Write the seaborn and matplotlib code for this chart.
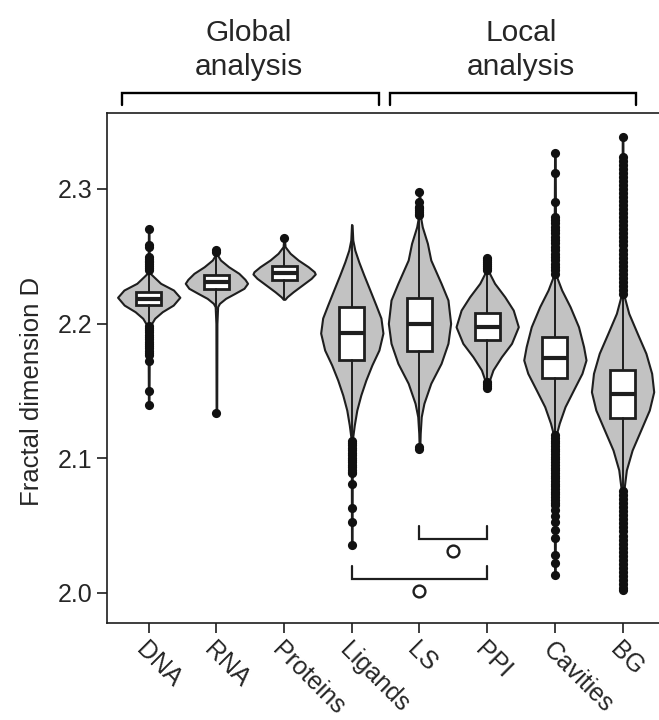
import numpy as np
import pandas as pd
import matplotlib
matplotlib.use("Agg")
import matplotlib.pyplot as plt
import matplotlib.transforms as mtransforms
import seaborn as sns

categories = ["DNA", "RNA", "Proteins", "Ligands", "LS", "PPI", "Cavities", "BG"]

# violin outlines: D values (top -> bottom) and relative density
dna_y = [2.2700, 2.2450, 2.2373, 2.2348, 2.2299, 2.2249, 2.2195, 2.2137, 2.2088, 2.2039, 2.1989, 2.1900, 2.1394]
dna_d = [0.3, 0.5, 1.5, 5, 12, 25, 31.4, 24.7, 13.7, 6, 2, 0.6, 0.3]
rna_y = [2.2539, 2.2509, 2.2472, 2.2422, 2.2373, 2.2328, 2.2299, 2.2262, 2.2224, 2.2187, 2.2150, 2.2125, 2.2000, 2.1333]
rna_d = [0.3, 1, 4, 12, 22, 28, 30.5, 27, 18, 9, 3, 1.2, 0.5, 0.3]
prot_y = [2.2633, 2.2571, 2.2522, 2.2472, 2.2422, 2.2385, 2.2368, 2.2336, 2.2286, 2.2236, 2.2199, 2.2180]
prot_d = [0.3, 1, 6, 14, 24, 30, 31, 27, 18, 9, 3, 0.8]
lig_y = [2.2732, 2.2620, 2.2546, 2.2457, 2.2360, 2.2249, 2.2137, 2.2041, 2.1929, 2.1803, 2.1692,
         2.1580, 2.1469, 2.1357, 2.1246, 2.1149, 2.1050, 2.0354]
lig_d = [0.3, 1, 3, 7, 12, 18, 24, 29, 31, 27, 20, 14, 9, 5, 2.5, 0.8, 0.5, 0.3]
ls_y = [2.2979, 2.2793, 2.2719, 2.2596, 2.2472, 2.2299, 2.2175, 2.2001, 2.1853, 2.1704, 2.1556,
        2.1407, 2.1308, 2.1184, 2.1073]
ls_d = [0.3, 1, 2.7, 7.7, 11, 21, 27.7, 30.3, 27.7, 21, 11, 4.3, 1.7, 0.7, 0.3]
ppi_y = [2.2487, 2.2373, 2.2299, 2.2199, 2.2100, 2.1976, 2.1853, 2.1753, 2.1655, 2.1580, 2.1536, 2.1513]
ppi_d = [0.3, 2.3, 7.3, 17.3, 25.7, 30.7, 24, 14, 5.7, 2.3, 1, 0.3]
cav_y = [2.3269, 2.2400, 2.2348, 2.2249, 2.2125, 2.1976, 2.1828, 2.1729, 2.1630, 2.1506, 2.1382,
         2.1259, 2.1184, 2.1100, 2.0131]
cav_d = [0.3, 0.8, 1.7, 6.7, 15, 23.3, 28.3, 30.7, 26.7, 18.3, 10, 4.3, 1.7, 0.8, 0.3]
bg_y = [2.3388, 2.2250, 2.2199, 2.2076, 2.1927, 2.1779, 2.1630, 2.1493, 2.1357, 2.1209, 2.1060,
        2.0912, 2.0788, 2.0700, 2.0020]
bg_d = [0.3, 0.8, 1.7, 6, 14.3, 22.7, 28.3, 30.3, 26, 17.7, 9.3, 3.7, 1.7, 0.8, 0.3]

# box plot statistics
q1 = [2.2137, 2.2256, 2.2323, 2.1730, 2.1796, 2.1877, 2.1593, 2.1296]
medians = [2.2182, 2.2311, 2.2377, 2.1930, 2.1996, 2.1976, 2.1741, 2.1476]
q3 = [2.2236, 2.2360, 2.2427, 2.2125, 2.2192, 2.2080, 2.1902, 2.1655]
whis_lo = [2.1989, 2.2110, 2.2180, 2.1140, 2.1210, 2.1575, 2.1175, 2.0760]
whis_hi = [2.2385, 2.2510, 2.2580, 2.2732, 2.2790, 2.2380, 2.2360, 2.2190]

# outliers
dna_out = [2.2700, 2.2585, 2.2570, 2.2496, 2.2482, 2.2468, 2.2454, 2.2440, 2.2426, 2.2412, 2.2398,
           2.1985, 2.1968, 2.1951, 2.1934, 2.1917, 2.1900, 2.1883, 2.1866, 2.1849, 2.1832, 2.1815,
           2.1798, 2.1782, 2.1768, 2.1724, 2.1499, 2.1394]
rna_out = [2.2545, 2.2535, 2.1333]
prot_out = [2.2633]
lig_out = [2.1130, 2.1112, 2.1094, 2.1076, 2.1058, 2.1040, 2.1022, 2.1004, 2.0986, 2.0968, 2.0950,
           2.0932, 2.0914, 2.0896, 2.0887, 2.0808, 2.0627, 2.0523, 2.0354]
ls_out = [2.2979, 2.2905, 2.2868, 2.2855, 2.2842, 2.2829, 2.2816, 2.2803, 2.1080, 2.1066]
ppi_out = [2.2484, 2.2470, 2.2455, 2.2440, 2.2425, 2.2410, 2.2395, 2.1565, 2.1550, 2.1535, 2.1519]
cav_out = [2.3269, 2.3116, 2.2905, 2.2793, 2.2770, 2.2745, 2.2720, 2.2695, 2.2670, 2.2645, 2.2620,
           2.2595, 2.2570, 2.2545, 2.2520, 2.2495, 2.2470, 2.2445, 2.2420, 2.2395, 2.2370,
           2.1170, 2.1150, 2.1130, 2.1110, 2.1090, 2.1070, 2.1050, 2.1030, 2.1010, 2.0990, 2.0970,
           2.0950, 2.0930, 2.0910, 2.0890, 2.0870, 2.0850, 2.0830, 2.0810, 2.0790, 2.0770, 2.0750,
           2.0730, 2.0710, 2.0690, 2.0670, 2.0650, 2.0614, 2.0570, 2.0528, 2.0465, 2.0405, 2.0280,
           2.0220, 2.0131]
bg_out = [2.3388, 2.3240, 2.3210, 2.3180, 2.3150, 2.3120, 2.3090, 2.3060, 2.3030, 2.3000, 2.2970,
          2.2940, 2.2910, 2.2880, 2.2850, 2.2820, 2.2790, 2.2760, 2.2730, 2.2700, 2.2670, 2.2640,
          2.2610, 2.2580, 2.2550, 2.2520, 2.2490, 2.2460, 2.2430, 2.2400, 2.2370, 2.2340, 2.2310,
          2.2280, 2.2250, 2.2220,
          2.0755, 2.0725, 2.0695, 2.0665, 2.0635, 2.0605, 2.0575, 2.0545, 2.0515, 2.0485, 2.0455,
          2.0425, 2.0395, 2.0365, 2.0335, 2.0305, 2.0275, 2.0245, 2.0215, 2.0185, 2.0155, 2.0125,
          2.0095, 2.0065, 2.0035, 2.0020]

# significance brackets (pairs, bracket level)
comparisons = [("LS", "PPI", 2.0399), ("Ligands", "PPI", 2.0100)]
# group label, bracket start, bracket end, label centre
groups = [("Global\nanalysis", -0.4, 3.4, 1.48), ("Local\nanalysis", 3.56, 7.2, 5.5)]

profiles_y = [dna_y, rna_y, prot_y, lig_y, ls_y, ppi_y, cav_y, bg_y]
profiles_d = [dna_d, rna_d, prot_d, lig_d, ls_d, ppi_d, cav_d, bg_d]
outliers = [dna_out, rna_out, prot_out, lig_out, ls_out, ppi_out, cav_out, bg_out]

sns.set_style("ticks")
plt.rcParams["font.family"] = ["Liberation Sans", "DejaVu Sans"]
dark = "#1e1e1e"

fig = plt.figure(figsize=(6.59, 7.2), dpi=100)
ax = fig.add_axes([0.1631, 0.1353, 0.8414, 0.7073])

# violins
vpstats = []
for ys, ds, m in zip(profiles_y, profiles_d, medians):
    vpstats.append(dict(coords=np.array(ys), vals=np.array(ds, dtype=float),
                        mean=m, median=m, min=min(ys), max=max(ys)))
parts = ax.violin(vpstats, positions=range(len(categories)), widths=0.92,
                  showmeans=False, showextrema=False, showmedians=False)
for body in parts["bodies"]:
    body.set_facecolor("#c2c2c2")
    body.set_edgecolor(dark)
    body.set_linewidth(1.5)
    body.set_alpha(1)
    body.set_zorder(1)

# boxes
stats = [dict(med=m, q1=a, q3=b, whislo=lo, whishi=hi, fliers=[])
         for m, a, b, lo, hi in zip(medians, q1, q3, whis_lo, whis_hi)]
ax.bxp(stats, positions=range(len(categories)), widths=0.37, patch_artist=True,
       showfliers=False, showcaps=False, manage_ticks=False, zorder=3,
       boxprops=dict(facecolor="white", edgecolor=dark, linewidth=2.0),
       medianprops=dict(color=dark, linewidth=3.0, solid_capstyle="butt"),
       whiskerprops=dict(color=dark, linewidth=1.4))

# outlier points
out_df = pd.DataFrame({
    "category": [c for c, vals in zip(categories, outliers) for _ in vals],
    "D": [v for vals in outliers for v in vals],
})
sns.stripplot(data=out_df, x="category", y="D", order=categories, jitter=False,
              color="#111111", size=6.6, linewidth=0, ax=ax, zorder=4)

# significance brackets with open circles
for a, b, lev in comparisons:
    xa, xb = categories.index(a), categories.index(b)
    ax.plot([xa, xa, xb, xb], [lev + 0.0097, lev, lev, lev + 0.0097], color=dark, lw=1.6,
            solid_joinstyle="miter", zorder=2)
    ax.plot([(xa + xb) / 2], [lev - 0.0089], marker="o", ms=8.5, mfc="white", mec=dark,
            mew=1.7, zorder=2)

# group brackets above the axes
trans = mtransforms.blended_transform_factory(ax.transData, ax.transAxes)
for label, x0, x1, xc in groups:
    ax.plot([x0, x0, x1, x1], [1.0163, 1.040, 1.040, 1.0163], color="black", lw=1.7,
            transform=trans, clip_on=False, solid_joinstyle="miter")
    ax.text(xc, 1.124, label, transform=trans, ha="center", va="center",
            fontsize=21.5, linespacing=1.3)

ax.set_xlim(-0.609, 7.582)
ax.set_ylim(1.9778, 2.3562)
ax.set_yticks([2.0, 2.1, 2.2, 2.3])
ax.set_yticklabels(["2.0", "2.1", "2.2", "2.3"])
ax.set_xticks(range(len(categories)))
ax.set_xticklabels(categories, rotation=-45, ha="left", va="top", rotation_mode="anchor")
ax.tick_params(axis="both", length=7, width=1.2, labelsize=18, color=dark, direction="out", pad=4)
ax.set_xlabel("")
ax.set_ylabel("Fractal dimension D", fontsize=18.5)
ax.yaxis.set_label_coords(-0.114, 0.453)
for sp in ax.spines.values():
    sp.set_visible(True)
    sp.set_linewidth(1.2)
    sp.set_color(dark)

fig.savefig("out.png", dpi=100)
